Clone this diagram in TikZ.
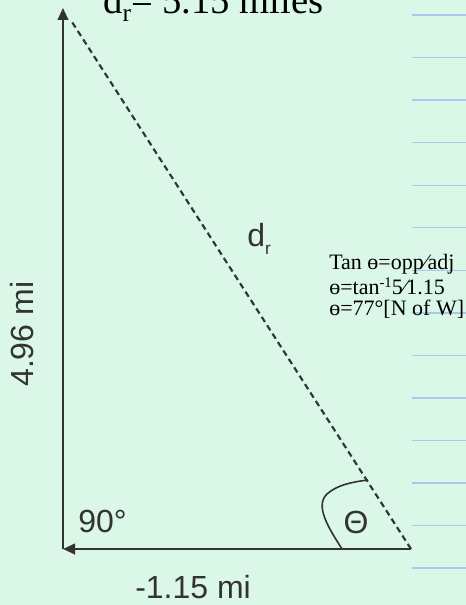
\documentclass[tikz,border=0pt]{standalone}
\usepackage{fontspec}
\setmainfont{Liberation Serif}
\newfontfamily\lsans{Liberation Sans}
\usetikzlibrary{arrows.meta}
\definecolor{bg}{HTML}{DAF7E7}
\definecolor{rulecol}{HTML}{A8C8F0}
\definecolor{ink}{HTML}{333333}
\tikzset{
  vec/.style={draw=ink, line width=1.5pt, -{Triangle[length=9pt,width=8pt]}},
  resline/.style={draw=ink, line width=1.6pt, dash pattern=on 4.5pt off 3pt},
  sanslab/.style={inner sep=0pt, anchor=base west, font=\lsans\fontsize{24}{24}\selectfont, text=ink},
  seriflab/.style={inner sep=0pt, anchor=base west, font=\fontsize{16.5}{16.5}\selectfont, text=black},
  ruleline/.style={draw=rulecol, line width=1pt}
}
\begin{document}
\begin{tikzpicture}[x=0.75pt,y=-0.75pt]
\fill[bg] (0,0) rectangle (466,605);
\useasboundingbox (0,0) rectangle (466,605);
\clip (0,0) rectangle (466,605);
\foreach \i in {0,...,13} \draw[ruleline] (412,{15+42.55*\i}) -- (466,{15+42.55*\i});
\coordinate (A) at (63,549);
\coordinate (B) at (63,8);
\coordinate (C) at (411,549);
\coordinate (arcS) at (342,549);
\coordinate (arcE) at (368,480);
\draw[resline, shorten >=12pt] (C) -- (B);
\draw[vec] (C) -- (A);
\draw[vec] (A) -- (B);
\draw[draw=ink, line width=1.2pt] (arcS) .. controls (330,530) and (314,506) .. (327,494) .. controls (337,485) and (352,482) .. (arcE);
\node[sanslab] (ang90) at (78,532) {90°};
\node[sanslab] (horiz) at (135,598) {-1.15 mi};
\node[sanslab, rotate=90] (vert) at (33,387) {4.96 mi};
\node[sanslab] (dr) at (247,247) {d\raisebox{-0.22em}{\fontsize{13}{13}\selectfont r}};
\node[sanslab, anchor=center] (theta) at (356,522) {Θ};
\node[inner sep=0pt, anchor=base west, font=\fontsize{29}{29}\selectfont] (title) at (103,14) {d\raisebox{-0.2em}{\fontsize{19}{19}\selectfont r}= 5.15 miles};
\node[seriflab] (t1) at (329,270) {Tan ɵ=opp⁄adj};
\node[seriflab] (t2) at (329,295) {ɵ=tan\raisebox{0.36em}{\fontsize{11}{11}\selectfont -1}5⁄1.15};
\node[seriflab] (t3) at (329,315) {ɵ=77°[N of W]};
\end{tikzpicture}
\end{document}
